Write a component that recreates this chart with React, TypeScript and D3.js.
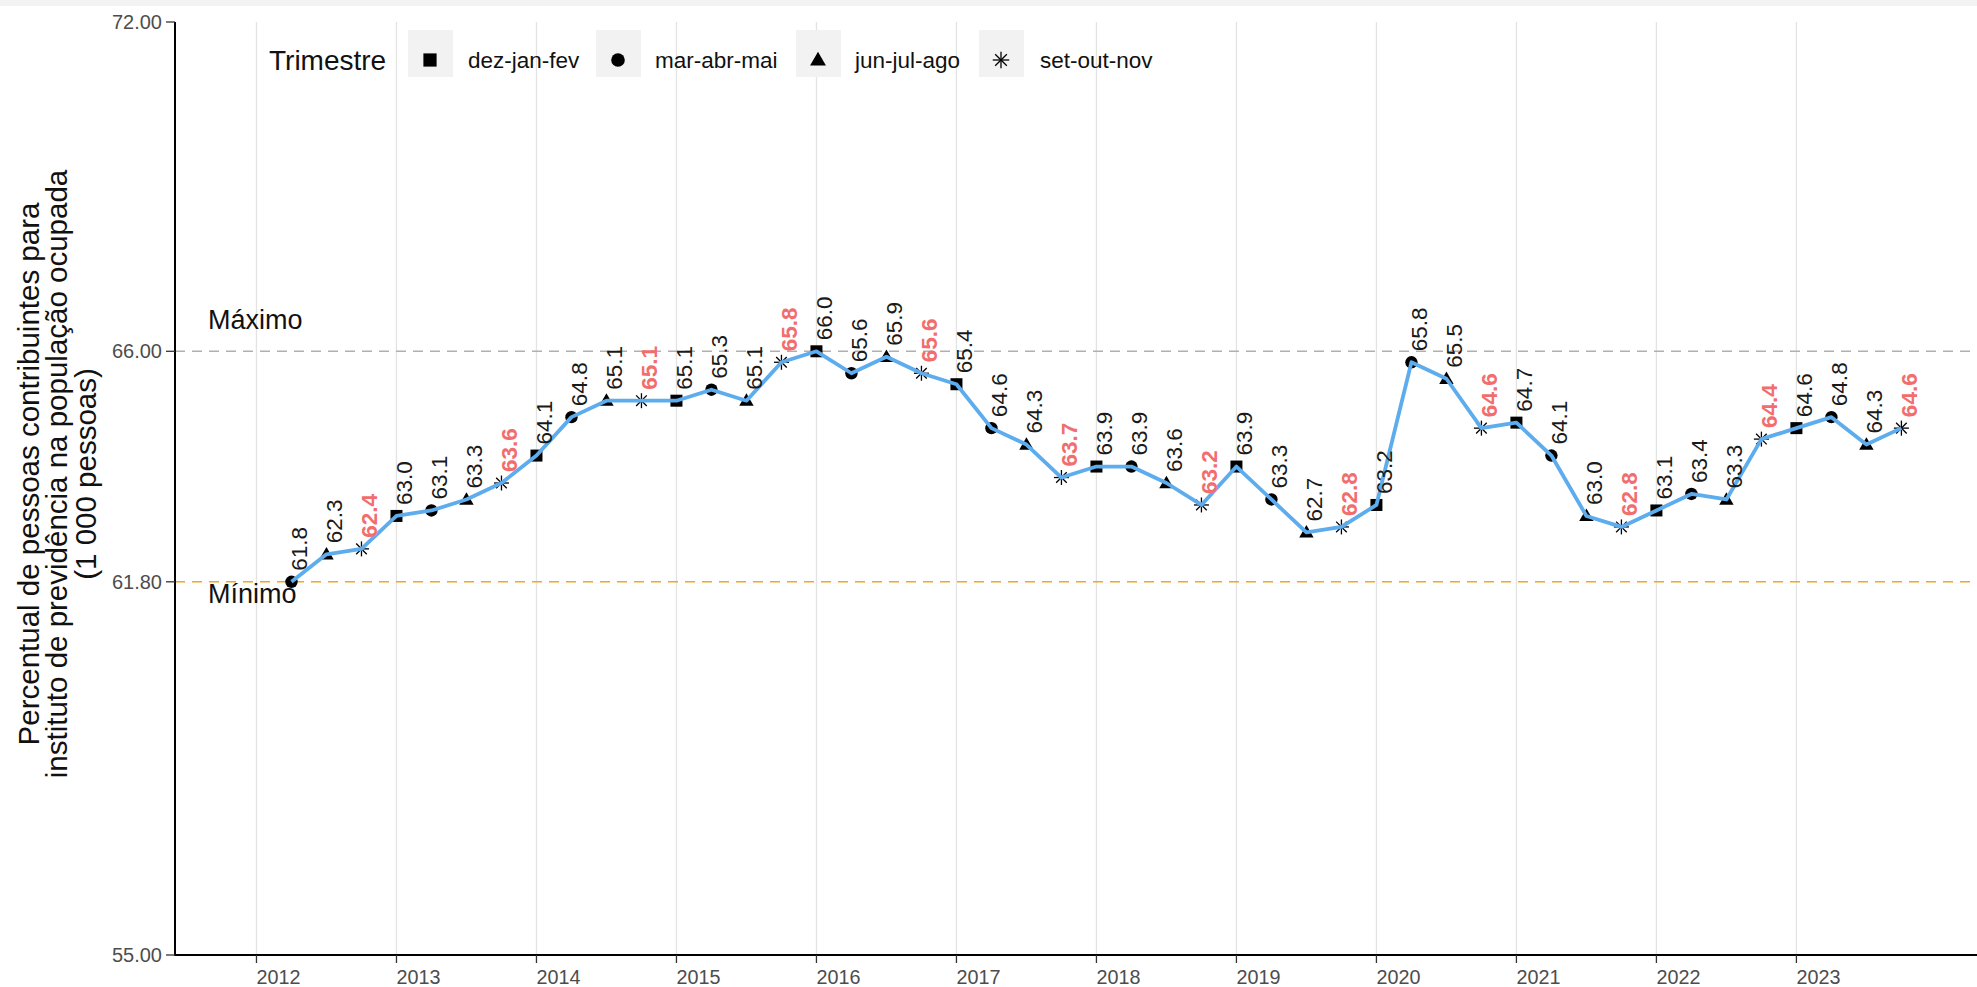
import React from "react";
import * as d3 from "d3";

const trimestres = ["dez-jan-fev", "mar-abr-mai", "jun-jul-ago", "set-out-nov"];
const anos = [2012, 2013, 2014, 2015, 2016, 2017, 2018, 2019, 2020, 2021, 2022, 2023];
const valores = [
  61.8, 62.3, 62.4,
  63.0, 63.1, 63.3, 63.6,
  64.1, 64.8, 65.1, 65.1,
  65.1, 65.3, 65.1, 65.8,
  66.0, 65.6, 65.9, 65.6,
  65.4, 64.6, 64.3, 63.7,
  63.9, 63.9, 63.6, 63.2,
  63.9, 63.3, 62.7, 62.8,
  63.2, 65.8, 65.5, 64.6,
  64.7, 64.1, 63.0, 62.8,
  63.1, 63.4, 63.3, 64.4,
  64.6, 64.8, 64.3, 64.6,
];
const yTicks = [55, 61.8, 66, 72];
const maximo = 66.0;
const minimo = 61.8;
const tituloY = [
  "Percentual de pessoas contribuintes para",
  "instituto de previdência na população ocupada",
  "(1 000 pessoas)",
];

const W = 1977;
const H = 987;
const FONT = "'Liberation Sans', Arial, sans-serif";

const x = d3.scaleLinear().domain([2011.418, 2024.29]).range([175, W]);
const y = d3.scaleLinear().domain([55, 72]).range([955, 22]);

// first observation: mar-abr-mai 2012 (trimestre index 1)
const dados = valores.map((v, i) => ({
  t: anos[0] + 0.25 * (i + 1),
  v,
  q: (i + 1) % 4,
}));

function Marker({ q, cx, cy, s = 1 }: { q: number; cx: number; cy: number; s?: number }) {
  if (q === 0) {
    const a = 12 * s;
    return <rect x={cx - a / 2} y={cy - a / 2} width={a} height={a} fill="#000" />;
  }
  if (q === 1) return <circle cx={cx} cy={cy} r={6.2 * s} fill="#000" />;
  if (q === 2) {
    const p = d3.symbol().type(d3.symbolTriangle).size(90 * s * s)();
    return <path d={p || ""} transform={`translate(${cx},${cy + 1})`} fill="#000" />;
  }
  const r = 7.5 * s;
  const d = r * Math.SQRT1_2;
  return (
    <g stroke="#000" strokeWidth={1.3} transform={`translate(${cx},${cy})`}>
      <line x1={-r} y1={0} x2={r} y2={0} />
      <line x1={0} y1={-r} x2={0} y2={r} />
      <line x1={-d} y1={-d} x2={d} y2={d} />
      <line x1={-d} y1={d} x2={d} y2={-d} />
    </g>
  );
}

export default function App() {
  const linha = d3
    .line<{ t: number; v: number }>()
    .x((d) => x(d.t))
    .y((d) => y(d.v))(dados);

  const legendKeys = [430, 618, 818, 1001];
  const legendText = [468, 655, 855, 1040];

  return (
    <svg
      width={W}
      height={H}
      style={{ position: "absolute", left: 0, top: 0, background: "#fff" }}
      fontFamily={FONT}
    >
      <rect x={0} y={0} width={W} height={H} fill="#fff" />
      <rect x={0} y={0} width={W} height={6} fill="#f3f3f3" />

      {/* vertical grid */}
      {anos.map((a) => (
        <line key={a} x1={x(a)} x2={x(a)} y1={22} y2={955} stroke="#e3e3e3" strokeWidth={1.3} />
      ))}

      {/* reference lines */}
      <line x1={175} x2={W} y1={y(maximo)} y2={y(maximo)} stroke="#b0b0b0" strokeWidth={1.4} strokeDasharray="10,7" />
      <line x1={175} x2={W} y1={y(minimo)} y2={y(minimo)} stroke="#f0a81c" strokeWidth={1.5} strokeDasharray="10,7" />
      <text x={208} y={y(maximo) - 22} fontSize={27} fill="#111">Máximo</text>
      <text x={208} y={y(minimo) + 21} fontSize={27} fill="#111">Mínimo</text>

      {/* markers */}
      {dados.map((d, i) => (
        <Marker key={i} q={d.q} cx={x(d.t)} cy={y(d.v)} />
      ))}

      {/* line */}
      <path d={linha || ""} fill="none" stroke="#5CACEE" strokeWidth={3.8} strokeLinejoin="round" />

      {/* labels */}
      {dados.map((d, i) => {
        const lx = x(d.t) + 8;
        const ly = y(d.v) - 11;
        const red = d.q === 3;
        return (
          <text
            key={i}
            transform={`translate(${lx},${ly}) rotate(-90)`}
            fontSize={22.5}
            dominantBaseline="central"
            fill={red ? "#F26D6D" : "#1a1a1a"}
            fontWeight={red ? "bold" : "normal"}
          >
            {d.v.toFixed(1)}
          </text>
        );
      })}

      {/* axes */}
      <line x1={175} x2={175} y1={22} y2={956} stroke="#000" strokeWidth={2} />
      <line x1={174} x2={W} y1={955} y2={955} stroke="#000" strokeWidth={2} />
      {yTicks.map((t) => (
        <g key={t}>
          <line x1={166} x2={175} y1={y(t)} y2={y(t)} stroke="#333" strokeWidth={1.3} />
          <text x={162} y={y(t)} textAnchor="end" dominantBaseline="central" fontSize={20} fill="#4d4d4d">
            {t.toFixed(2)}
          </text>
        </g>
      ))}
      {anos.map((a) => (
        <g key={a}>
          <line x1={x(a)} x2={x(a)} y1={955} y2={963} stroke="#333" strokeWidth={1.3} />
          <text x={x(a)} y={984} fontSize={20} fill="#4d4d4d" textLength={44} lengthAdjust="spacingAndGlyphs">
            {a}
          </text>
        </g>
      ))}

      {/* y title */}
      {tituloY.map((l, i) => (
        <text
          key={i}
          transform={`translate(${28 + i * 28.5},474) rotate(-90)`}
          textAnchor="middle"
          dominantBaseline="central"
          fontSize={29.5}
          fill="#111"
        >
          {l}
        </text>
      ))}

      {/* legend */}
      <text x={269} y={60} dominantBaseline="central" fontSize={28} fill="#111">Trimestre</text>
      {trimestres.map((tr, i) => (
        <g key={tr}>
          <rect x={legendKeys[i] - 22} y={30} width={45} height={47} fill="#f2f2f2" />
          <Marker q={i} cx={legendKeys[i]} cy={60} s={1.1} />
          <text x={legendText[i]} y={60} dominantBaseline="central" fontSize={22.5} fill="#111">
            {tr}
          </text>
        </g>
      ))}
    </svg>
  );
}
